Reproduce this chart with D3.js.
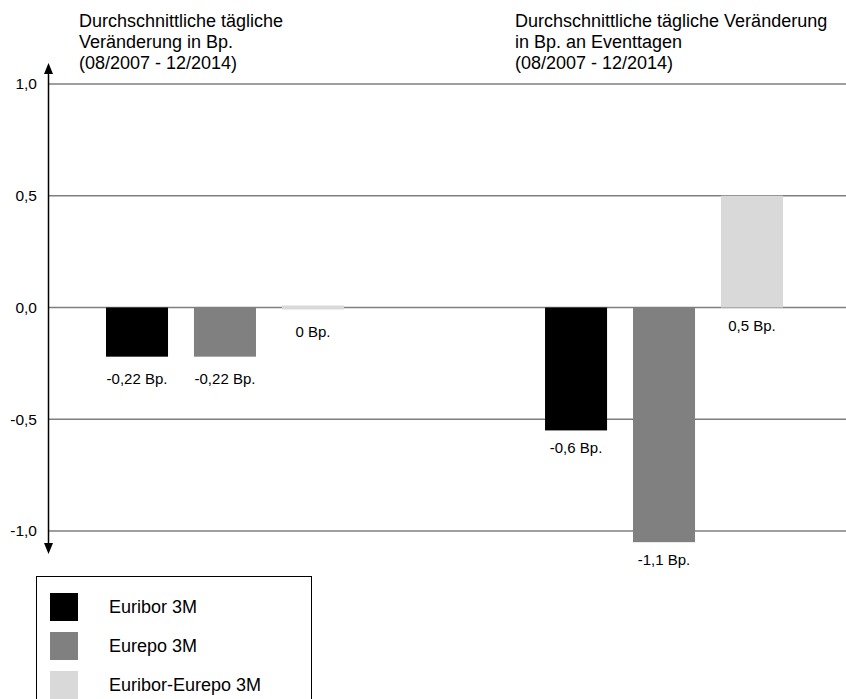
<!DOCTYPE html>
<html lang="de">
<head>
<meta charset="utf-8">
<script src="https://cdn.jsdelivr.net/npm/d3@7"></script>
<style>
  html, body { margin: 0; padding: 0; background: #fff; }
  svg { display: block; font-family: "Liberation Sans", Arial, sans-serif; }
</style>
</head>
<body>
<svg id="chart" width="846" height="699"></svg>
<script>
// Zeiträume / Gruppen
const groups = ["alle Tage", "Eventtage"];
// Reihen
const series = ["Euribor 3M", "Eurepo 3M", "Euribor-Eurepo 3M"];
const colors = ["#000000", "#808080", "#d9d9d9"];
// Durchschnittliche tägliche Veränderung in Bp. je Gruppe
const valuesAllDays = [-0.22, -0.22, 0];
const valuesEventDays = [-0.55, -1.05, 0.5];
// Nachkommastellen der Beschriftung je Gruppe
const labelDecimals = [2, 1];
// Achsenbeschriftung
const yTicks = [-1.0, -0.5, 0.0, 0.5, 1.0];
const titles = [
  ["Durchschnittliche tägliche", "Veränderung in Bp.", "(08/2007 - 12/2014)"],
  ["Durchschnittliche tägliche Veränderung", "in Bp. an Eventtagen", "(08/2007 - 12/2014)"]
];

const seriesValues = [valuesAllDays, valuesEventDays];

const svg = d3.select("#chart");

const y = d3.scaleLinear().domain([-1, 1]).range([531, 84]);
const x0 = d3.scaleBand().domain(groups).range([106, 783]).paddingInner(0.458);
const x1 = d3.scaleBand().domain(series).range([0, x0.bandwidth()]).paddingInner(0.295);

const axisX = 48.5;

// Gitterlinien
svg.append("g")
  .selectAll("line")
  .data(yTicks)
  .join("line")
  .attr("x1", axisX)
  .attr("x2", 846)
  .attr("y1", d => y(d))
  .attr("y2", d => y(d))
  .attr("stroke", "#7f7f7f")
  .attr("stroke-width", 1.5);

// Achsenbeschriftung
const fmtTick = d => d3.format(".1f")(d).replace(".", ",").replace("−", "-");
svg.append("g")
  .selectAll("text")
  .data(yTicks)
  .join("text")
  .attr("x", 37)
  .attr("y", d => y(d))
  .attr("dy", "0.35em")
  .attr("text-anchor", "end")
  .attr("font-size", 15.5)
  .attr("fill", "#000")
  .text(fmtTick);

// Y-Achse mit Pfeilspitzen
svg.append("line")
  .attr("x1", axisX).attr("x2", axisX)
  .attr("y1", 70).attr("y2", 547)
  .attr("stroke", "#000").attr("stroke-width", 1.5);
svg.append("path")
  .attr("d", `M${axisX},63 L${axisX - 4.5},74 L${axisX + 4.5},74 Z`)
  .attr("fill", "#000");
svg.append("path")
  .attr("d", `M${axisX},554 L${axisX - 4.5},543 L${axisX + 4.5},543 Z`)
  .attr("fill", "#000");

// Beschriftung im deutschen Zahlenformat, kaufmännisch gerundet
function fmtLabel(v, dec) {
  if (v === 0) return "0 Bp.";
  const f = Math.pow(10, dec);
  const r = Math.sign(v) * Math.round(Math.abs(v) * f + 1e-9) / f;
  return r.toFixed(dec).replace(".", ",") + " Bp.";
}

const zeroStub = 4;    // Nullwerte als schmaler Strich um die Nulllinie
const labelGap = [27, 23];

const y0 = y(0);
const barData = [];
groups.forEach((g, gi) => {
  series.forEach((s, si) => {
    barData.push({ group: g, gi, series: s, si, value: seriesValues[gi][si] });
  });
});

const barG = svg.append("g");
barData.forEach(d => {
  const x = x0(d.group) + x1(d.series);
  let top, h;
  if (d.value === 0) {
    top = y0 - zeroStub / 2; h = zeroStub;
  } else {
    top = Math.min(y(d.value), y0);
    h = Math.abs(y(d.value) - y0);
  }
  barG.append("rect")
    .attr("x", x)
    .attr("y", top)
    .attr("width", x1.bandwidth())
    .attr("height", h)
    .attr("fill", colors[d.si]);
  const lower = d.value === 0 ? y0 + zeroStub / 2 : Math.max(y(d.value), y0);
  barG.append("text")
    .attr("x", x + x1.bandwidth() / 2)
    .attr("y", lower + labelGap[d.gi])
    .attr("text-anchor", "middle")
    .attr("font-size", 15)
    .attr("fill", "#000")
    .text(fmtLabel(d.value, labelDecimals[d.gi]));
});

// Überschriften
const titleX = [79, 515];
titles.forEach((lines, i) => {
  const t = svg.append("text")
    .attr("x", titleX[i])
    .attr("y", 26.5)
    .attr("font-size", 18)
    .attr("fill", "#000");
  lines.forEach((ln, j) => {
    t.append("tspan").attr("x", titleX[i]).attr("dy", j === 0 ? 0 : 21).text(ln);
  });
});

// Legende
const legend = svg.append("g");
legend.append("rect")
  .attr("x", 36.5).attr("y", 576.5)
  .attr("width", 275).attr("height", 140)
  .attr("fill", "none").attr("stroke", "#000").attr("stroke-width", 1);
series.forEach((s, i) => {
  legend.append("rect")
    .attr("x", 50).attr("y", 593 + i * 39)
    .attr("width", 28).attr("height", 28)
    .attr("fill", colors[i]);
  legend.append("text")
    .attr("x", 109).attr("y", 607 + i * 39)
    .attr("dy", "0.35em")
    .attr("font-size", 18)
    .attr("fill", "#000")
    .text(s);
});
</script>
</body>
</html>
